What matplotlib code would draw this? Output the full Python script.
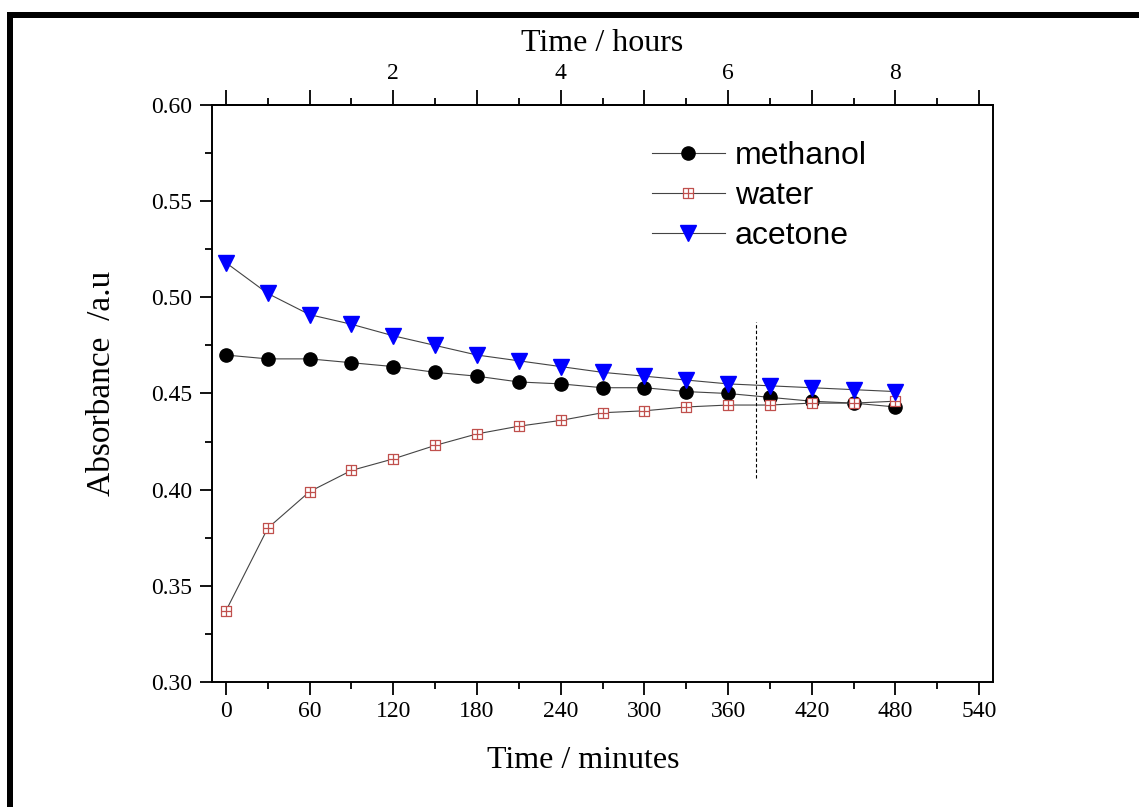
"""Absorbance vs time for three solvents."""
import matplotlib
matplotlib.use("Agg")
import matplotlib.pyplot as plt
from matplotlib.path import Path
from matplotlib.patches import Rectangle
from matplotlib.ticker import MultipleLocator, FuncFormatter

time_min = [0, 30, 60, 90, 120, 150, 180, 210, 240, 270, 300, 330, 360, 390, 420, 450, 480]
methanol = [0.470, 0.468, 0.468, 0.466, 0.464, 0.461, 0.459, 0.456, 0.455, 0.453,
            0.453, 0.451, 0.450, 0.448, 0.446, 0.445, 0.443]
water = [0.337, 0.380, 0.399, 0.410, 0.416, 0.423, 0.429, 0.433, 0.436, 0.440,
         0.441, 0.443, 0.444, 0.444, 0.445, 0.445, 0.446]
acetone = [0.518, 0.502, 0.491, 0.486, 0.480, 0.475, 0.470, 0.467, 0.464, 0.461,
           0.459, 0.457, 0.455, 0.454, 0.453, 0.452, 0.451]
marker_time = 380
marker_span = (0.406, 0.487)

SERIF = "Liberation Serif"
SANS = "Liberation Sans"

# square with a cross inside (Origin-style marker)
sq_cross = Path(
    [(-1, -1), (1, -1), (1, 1), (-1, 1), (-1, -1),
     (0, -1), (0, 1), (-1, 0), (1, 0)],
    [Path.MOVETO, Path.LINETO, Path.LINETO, Path.LINETO, Path.CLOSEPOLY,
     Path.MOVETO, Path.LINETO, Path.MOVETO, Path.LINETO],
)

W, H = 1139, 807
fig = plt.figure(figsize=(W / 100, H / 100), dpi=100)
fig.patch.set_facecolor("white")
ax = fig.add_axes([212 / W, 1 - 682 / H, 781 / W, 577 / H])

line_kw = dict(color="#444444", lw=0.8)
ax.plot(time_min, methanol, marker="o", ms=9.5, mfc="black", mec="black",
        label="methanol", **line_kw)
ax.plot(time_min, water, marker=sq_cross, ms=7, mfc="white", mec="#c0504d",
        mew=0.9, label="water", **line_kw)
ax.plot(time_min, acetone, marker="v", ms=11, mfc="#0000ff", mec="#0000ff",
        label="acetone", **line_kw)
ax.vlines(marker_time, *marker_span, colors="black", linestyles=(0, (3, 2)), lw=0.8)

ax.set_xlim(-10, 550)
ax.set_ylim(0.30, 0.60)
ax.xaxis.set_major_locator(MultipleLocator(60))
ax.xaxis.set_minor_locator(MultipleLocator(30))
ax.yaxis.set_major_locator(MultipleLocator(0.05))
ax.yaxis.set_minor_locator(MultipleLocator(0.025))
ax.yaxis.set_major_formatter(FuncFormatter(lambda v, p: f"{v:.2f}"))

for s in ax.spines.values():
    s.set_linewidth(1.4)
ax.tick_params(which="major", direction="out", length=9, width=1.3,
               labelsize=17, pad=5)
ax.tick_params(which="minor", direction="out", length=5, width=1.3)
for lab in ax.get_xticklabels() + ax.get_yticklabels():
    lab.set_fontfamily(SERIF)

ax.set_xlabel("Time / minutes", fontsize=23, family=SERIF)
ax.set_ylabel("Absorbance  /a.u", fontsize=24, family=SERIF)
ax.xaxis.set_label_coords(0.475, -0.111)
ax.yaxis.set_label_coords(-0.121, 0.518)

top = ax.secondary_xaxis("top", functions=(lambda m: m / 60, lambda h: h * 60))
top.xaxis.set_major_locator(MultipleLocator(1))
top.xaxis.set_minor_locator(MultipleLocator(0.5))
top.xaxis.set_major_formatter(FuncFormatter(
    lambda v, p: f"{int(round(v))}" if round(v) % 2 == 0 and 0 < round(v) < 9 else ""))
top.spines["top"].set_linewidth(1.4)
top.tick_params(which="major", direction="out", length=11, width=1.3,
                labelsize=17, pad=4)
top.tick_params(which="minor", direction="out", length=5, width=1.3)
for lab in top.get_xticklabels():
    lab.set_fontfamily(SERIF)
top.set_xlabel("Time / hours", fontsize=23, family=SERIF, labelpad=9)

leg = ax.legend(loc="upper left", bbox_to_anchor=(652 / W, 1 - 141 / H),
                bbox_transform=fig.transFigure, frameon=False,
                prop={"family": SANS, "size": 23}, handlelength=2.28,
                handletextpad=0.31, labelspacing=0.31, borderpad=0,
                borderaxespad=0)

# black frame on the top and left edges
fig.add_artist(Rectangle((7 / W, 0), 5.5 / W, 1 - 12 / H,
                         transform=fig.transFigure, color="black", lw=0))
fig.add_artist(Rectangle((7 / W, 1 - 17.5 / H), 1 - 7 / W, 5.5 / H,
                         transform=fig.transFigure, color="black", lw=0))

fig.savefig("out.png", dpi=100)
